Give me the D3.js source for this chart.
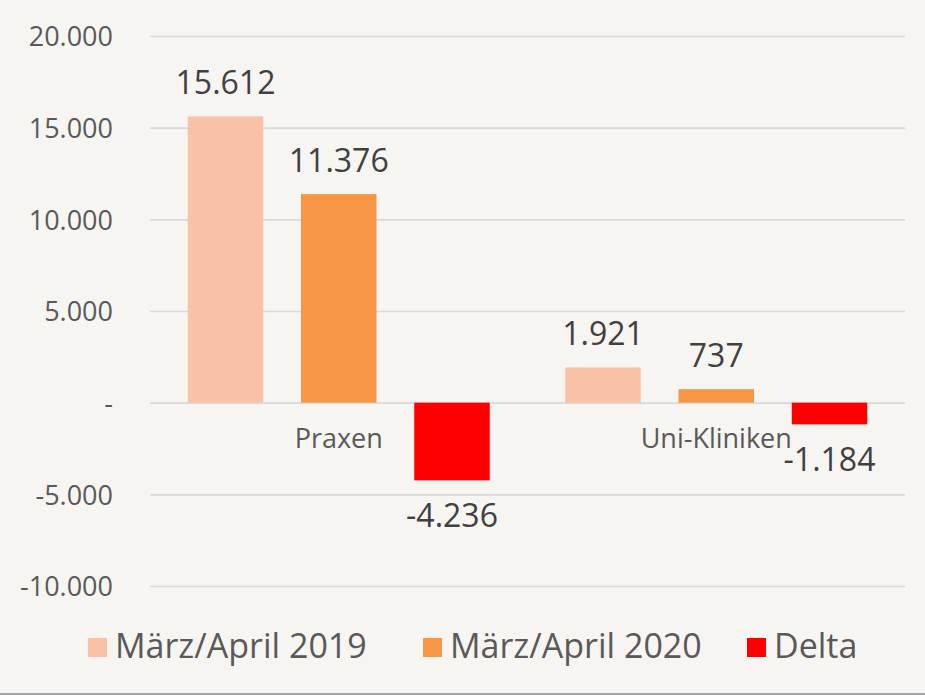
<!DOCTYPE html>
<html>
<head>
<meta charset="utf-8">
<script src="https://cdn.jsdelivr.net/npm/d3@7"></script>
<style>
  body { margin: 0; background: #f7f5f1; }
  text { font-family: "Open Sans", "DejaVu Sans", sans-serif; }
</style>
</head>
<body>
<svg id="chart" width="925" height="695"></svg>
<script>
"use strict";

var categories = ["Praxen", "Uni-Kliniken"];
var series = ["März/April 2019", "März/April 2020", "Delta"];
var values2019 = [15612, 1921];
var values2020 = [11376, 737];
var valuesDelta = [-4236, -1184];
var yTicks = [-10000, -5000, 0, 5000, 10000, 15000, 20000];
var colors = ["#f9c2a7", "#f79646", "#ff0000"];

var svg = d3.select("#chart"),
    margin = {top: 36, right: 20, bottom: 109, left: 150},
    width = 905 - margin.left,
    height = 550;

svg.append("rect").attr("width", 925).attr("height", 695).attr("fill", "#f7f5f1");

var g = svg.append("g").attr("transform", "translate(" + margin.left + "," + margin.top + ")");

var x0 = d3.scaleBand().domain(categories).range([0, width]).padding(0);
var x1 = d3.scaleBand().domain(series).range([0, x0.bandwidth()])
    .paddingInner(1 / 3).paddingOuter(1 / 3);
var y = d3.scaleLinear().domain([-10000, 20000]).range([height, 0]);

// numbers with "." as thousands separator, zero shown as "-"
function fmt(v) {
  if (v === 0) return "-";
  return d3.format(",")(v).replace(/,/g, ".").replace("−", "-");
}

// gridlines + y labels
g.append("g")
    .call(d3.axisLeft(y).tickValues(yTicks).tickSize(-width).tickFormat(fmt))
    .call(function(a) {
      a.select(".domain").remove();
      a.selectAll("line").attr("stroke", "#d9d9d9").attr("stroke-width", 1.6);
      a.selectAll("text")
        .attr("x", -37)
        .attr("dy", "0.36em")
        .attr("fill", "#595959")
        .style("font-family", "'Open Sans', sans-serif")
        .style("font-size", "27px");
    });

var rows = categories.map(function(c, i) {
  return [values2019[i], values2020[i], valuesDelta[i]].map(function(v, j) {
    return {cat: c, key: series[j], value: v, color: colors[j]};
  });
});

var groups = g.selectAll(".grp")
    .data(rows)
  .enter().append("g")
    .attr("transform", function(d, i) { return "translate(" + x0(categories[i]) + ",0)"; });

groups.selectAll("rect")
    .data(function(d) { return d; })
  .enter().append("rect")
    .attr("x", function(d) { return x1(d.key); })
    .attr("width", x1.bandwidth())
    .attr("y", function(d) { return y(Math.max(0, d.value)); })
    .attr("height", function(d) { return Math.abs(y(d.value) - y(0)); })
    .attr("fill", function(d) { return d.color; });

groups.selectAll(".val")
    .data(function(d) { return d; })
  .enter().append("text")
    .attr("x", function(d) { return x1(d.key) + x1.bandwidth() / 2; })
    .attr("y", function(d) { return d.value >= 0 ? y(d.value) - 22 : y(d.value) + 47; })
    .attr("text-anchor", "middle")
    .attr("fill", "#404040")
    .style("font-size", "32px")
    .text(function(d) { return fmt(d.value); });

// category labels under the zero line
g.selectAll(".cat")
    .data(categories)
  .enter().append("text")
    .attr("x", function(d) { return x0(d) + x0.bandwidth() / 2; })
    .attr("y", y(0) + 45)
    .attr("text-anchor", "middle")
    .attr("fill", "#595959")
    .style("font-size", "27px")
    .text(function(d) { return d; });

// legend
var legendX = [88, 423, 747];
var legend = svg.append("g").selectAll("g")
    .data(series)
  .enter().append("g")
    .attr("transform", function(d, i) { return "translate(" + legendX[i] + ",638)"; });

legend.append("rect")
    .attr("width", 19).attr("height", 19)
    .attr("fill", function(d, i) { return colors[i]; });

legend.append("text")
    .attr("x", 27).attr("y", 20)
    .attr("fill", "#595959")
    .style("font-size", "34px")
    .text(function(d) { return d; });

svg.append("line")
    .attr("x1", 0).attr("x2", 925).attr("y1", 694).attr("y2", 694)
    .attr("stroke", "#a6a6a6").attr("stroke-width", 2);
</script>
</body>
</html>
